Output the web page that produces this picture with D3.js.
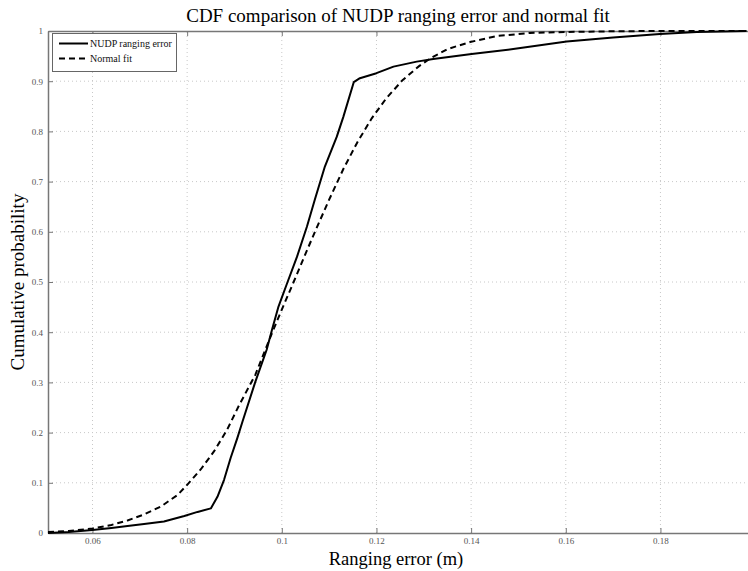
<!DOCTYPE html>
<html>
<head>
<meta charset="utf-8">
<script src="https://cdn.jsdelivr.net/npm/d3@7"></script>
<style>
  html, body { margin: 0; padding: 0; background: #fff; }
  svg { display: block; font-family: "Liberation Serif", "Times New Roman", serif; }
</style>
</head>
<body>
<svg id="chart" width="748" height="571"></svg>
<script>
// Empirical CDF of the NUDP ranging error (m)
const errX = [0.0506, 0.0550, 0.0600, 0.0640, 0.0674, 0.0709, 0.0751, 0.0794, 0.0822, 0.0850,
  0.0864, 0.0878, 0.0892, 0.0906, 0.0917, 0.0944, 0.0968, 0.0979, 0.0993, 0.1011,
  0.1032, 0.1053, 0.1070, 0.1091, 0.1116, 0.1130, 0.1152, 0.1165, 0.1200, 0.1236,
  0.1285, 0.1320, 0.1401, 0.1489, 0.1602, 0.1700, 0.1799, 0.1877, 0.1982];
const errP = [0.000, 0.002, 0.006, 0.010, 0.014, 0.018, 0.023, 0.034, 0.042, 0.049,
  0.072, 0.106, 0.150, 0.189, 0.222, 0.301, 0.365, 0.404, 0.451, 0.497,
  0.550, 0.610, 0.665, 0.730, 0.789, 0.829, 0.898, 0.906, 0.916, 0.929,
  0.939, 0.944, 0.954, 0.964, 0.979, 0.987, 0.994, 0.998, 1.000];

// Fitted normal CDF
const fitX = [0.0506, 0.0550, 0.0600, 0.0640, 0.0674, 0.0709, 0.0745, 0.0780, 0.0801, 0.0829,
  0.0857, 0.0884, 0.0910, 0.0944, 0.0980, 0.1000, 0.1025, 0.1050, 0.1070, 0.1100,
  0.1130, 0.1160, 0.1190, 0.1220, 0.1255, 0.1290, 0.1313, 0.1350, 0.1398, 0.1454,
  0.1524, 0.1600, 0.1700, 0.1800, 0.1985];
const fitP = [0.002, 0.004, 0.009, 0.016, 0.025, 0.037, 0.053, 0.076, 0.097, 0.127,
  0.163, 0.205, 0.255, 0.315, 0.400, 0.445, 0.500, 0.556, 0.600, 0.664,
  0.725, 0.779, 0.826, 0.865, 0.902, 0.930, 0.945, 0.964, 0.978, 0.990,
  0.996, 0.998, 0.9995, 1.000, 1.000];

const xTicks = [0.06, 0.08, 0.1, 0.12, 0.14, 0.16, 0.18];
const yTicks = [0, 0.1, 0.2, 0.3, 0.4, 0.5, 0.6, 0.7, 0.8, 0.9, 1];
const seriesNames = ["NUDP ranging error", "Normal fit"];

const titleText = "CDF comparison of NUDP ranging error and normal fit";
const xLabel = "Ranging error (m)";
const yLabel = "Cumulative probability";

const svg = d3.select("#chart");
const margin = { left: 48, right: 0, top: 31, bottom: 38 };
const W = 748, H = 571;

const x = d3.scaleLinear().domain([0.0506, 0.1985]).range([margin.left, W - margin.right]);
const y = d3.scaleLinear().domain([0, 1]).range([H - margin.bottom, margin.top]);

const axisColor = "#777";

// dotted grid
const grid = svg.append("g");
grid.selectAll("line.vx").data(xTicks).join("line")
  .attr("x1", d => x(d)).attr("x2", d => x(d))
  .attr("y1", y(0)).attr("y2", y(1))
  .attr("stroke", "#c8c8c8").attr("stroke-width", 1).attr("stroke-dasharray", "1,3");
grid.selectAll("line.hy").data(yTicks.filter(d => d > 0 && d < 1)).join("line")
  .attr("x1", x.range()[0]).attr("x2", x.range()[1])
  .attr("y1", d => y(d)).attr("y2", d => y(d))
  .attr("stroke", "#c8c8c8").attr("stroke-width", 1).attr("stroke-dasharray", "1,3");

// axes with inward ticks
const fmt = d => d3.format("~g")(d);
const gx = svg.append("g").attr("transform", `translate(0,${y(0)})`)
  .call(d3.axisBottom(x).tickValues(xTicks).tickFormat(fmt).tickSizeInner(-5).tickSizeOuter(0).tickPadding(5));
const gxTop = svg.append("g").attr("transform", `translate(0,${y(1)})`)
  .call(d3.axisTop(x).tickValues(xTicks).tickFormat("").tickSizeInner(-5).tickSizeOuter(0));
const gy = svg.append("g").attr("transform", `translate(${x.range()[0]},0)`)
  .call(d3.axisLeft(y).tickValues(yTicks).tickFormat(fmt).tickSizeInner(-5).tickSizeOuter(0).tickPadding(5));

[gx, gxTop, gy].forEach(g => {
  g.select(".domain").attr("stroke", axisColor).attr("stroke-width", 1.5);
  g.selectAll(".tick line").attr("stroke", axisColor).attr("stroke-width", 1);
  g.selectAll(".tick text").attr("fill", "#555").attr("font-size", 9)
    .attr("font-family", "Liberation Serif, serif");
});

// curves
const line = d3.line().x(d => x(d[0])).y(d => y(d[1]));
svg.append("path").datum(errX.map((v, i) => [v, errP[i]]))
  .attr("d", line).attr("fill", "none").attr("stroke", "#000").attr("stroke-width", 2)
  .attr("stroke-linejoin", "round");
svg.append("path").datum(fitX.map((v, i) => [v, fitP[i]]))
  .attr("d", line).attr("fill", "none").attr("stroke", "#000").attr("stroke-width", 2)
  .attr("stroke-dasharray", "6,4");

// legend
const lg = svg.append("g");
lg.append("rect").attr("x", 52.5).attr("y", 33.5).attr("width", 124).attr("height", 38)
  .attr("fill", "#fff").attr("stroke", "#666").attr("stroke-width", 1);
seriesNames.forEach((name, i) => {
  const ly = 43.5 + i * 15;
  lg.append("line").attr("x1", 59).attr("x2", 88).attr("y1", ly).attr("y2", ly)
    .attr("stroke", "#000").attr("stroke-width", 2)
    .attr("stroke-dasharray", i === 1 ? "6,4" : null);
  lg.append("text").attr("x", 90).attr("y", ly + 3.5).attr("font-size", 10)
    .attr("fill", "#111").text(name);
});

// title and axis labels
svg.append("text").attr("x", 398).attr("y", 22).attr("text-anchor", "middle")
  .attr("font-size", 19).attr("fill", "#000").text(titleText);
svg.append("text").attr("x", 396).attr("y", 565).attr("text-anchor", "middle")
  .attr("font-size", 18.5).attr("fill", "#000").text(xLabel);
svg.append("text").attr("transform", "translate(24,282) rotate(-90)").attr("text-anchor", "middle")
  .attr("font-size", 19).attr("fill", "#000").text(yLabel);
</script>
</body>
</html>
